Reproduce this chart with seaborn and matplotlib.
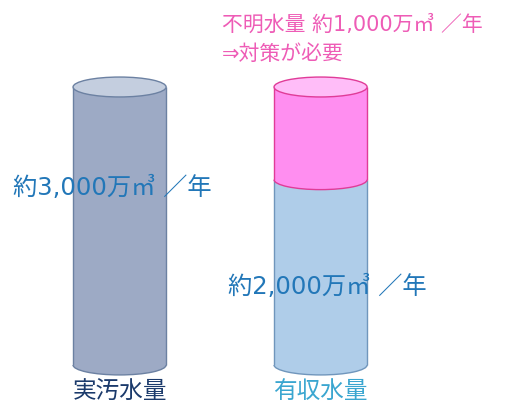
import matplotlib
matplotlib.use("Agg")
import matplotlib.pyplot as plt
import seaborn as sns
from matplotlib.patches import Ellipse, Arc

# 年間水量（万㎥／年）
categories = ["実汚水量", "有収水量"]
measured = [3000, 2000]   # 実汚水量, 有収水量
unknown = 1000            # 不明水量

label_color = "#2277B8"
cat_colors = ["#1B3A6B", "#3AA6D0"]
pink_text = "#EE5CB6"

body = {"gray": "#9DAAC5", "blue": "#AFCDE9", "pink": "#FF8EF0"}
cap = {"gray": "#C4CEDF", "pink": "#FFBDF8"}
edge = {"gray": "#6C81A2", "blue": "#7096BC", "pink": "#E03C98"}

sns.set_theme(style="white")
plt.rcParams["font.family"] = ["Noto Sans CJK JP", "DejaVu Sans"]
label_family = ["DejaVu Sans", "Noto Sans CJK JP"]

fig = plt.figure(figsize=(5.32, 4.05), dpi=100)
ax = fig.add_axes([0, 0, 1, 1])

bar_w = 0.463
cap_h = 215  # ellipse height in data units

# 合計の高さ（左: 実汚水量, 右: 有収水量 + 不明水量）
totals = [measured[0], measured[1] + unknown]
sns.barplot(x=categories, y=totals, hue=categories,
            palette=[body["gray"], body["pink"]], legend=False,
            width=bar_w, saturation=1, linewidth=0, ax=ax, zorder=2)
# 有収水量の部分
sns.barplot(x=[categories[1]], y=[measured[1]], order=categories,
            color=body["blue"], width=bar_w, saturation=1, linewidth=0,
            ax=ax, zorder=3)

left_bar, right_bar, blue_bar = ax.patches[:3]


def bottom_cap(p, y, fill, ec, z):
    cx = p.get_x() + p.get_width() / 2
    w = p.get_width()
    ax.add_patch(Ellipse((cx, y), w, cap_h, facecolor=fill, edgecolor="none", zorder=z))
    ax.add_patch(Arc((cx, y), w, cap_h, theta1=180, theta2=360, color=ec, lw=1.0, zorder=z + 0.1))


def top_cap(p, y, fill, ec, z):
    cx = p.get_x() + p.get_width() / 2
    ax.add_patch(Ellipse((cx, y), p.get_width(), cap_h, facecolor=fill,
                         edgecolor=ec, lw=1.0, zorder=z))


def sides(p, y0, y1, ec, z):
    x0 = p.get_x()
    ax.vlines([x0, x0 + p.get_width()], y0, y1, colors=ec, lw=1.0, zorder=z)


# 実汚水量の円柱
bottom_cap(left_bar, 0, body["gray"], edge["gray"], 1)
sides(left_bar, 0, left_bar.get_height(), edge["gray"], 2.5)
top_cap(left_bar, left_bar.get_height(), cap["gray"], edge["gray"], 4)

# 有収水量 + 不明水量の円柱
bottom_cap(blue_bar, 0, body["blue"], edge["blue"], 1)
sides(blue_bar, 0, blue_bar.get_height(), edge["blue"], 3.5)
bottom_cap(right_bar, blue_bar.get_height(), body["pink"], edge["pink"], 4)
sides(right_bar, blue_bar.get_height(), right_bar.get_height(), edge["pink"], 4.5)
top_cap(right_bar, right_bar.get_height(), cap["pink"], edge["pink"], 5)

# 数値ラベル
ax.text(-0.53, 1910, f"約{measured[0]:,}万㎥ ／年", color=label_color,
        fontsize=17.5, family=label_family, ha="left", va="center", zorder=10)
ax.text(0.54, 842, f"約{measured[1]:,}万㎥ ／年", color=label_color,
        fontsize=17.5, family=label_family, ha="left", va="center", zorder=10)
ax.text(0.51, 3669, f"不明水量 約{unknown:,}万㎥ ／年", color=pink_text,
        fontsize=15, family=label_family, ha="left", va="center", zorder=10)
ax.text(0.51, 3356, "⇒対策が必要", color=pink_text,
        fontsize=15, family=label_family, ha="left", va="center", zorder=10)

# 区分ラベル
for i, (name, c) in enumerate(zip(categories, cat_colors)):
    ax.text(i, -281, name, color=c, fontsize=17, ha="center", va="center")

ax.set_xlim(-0.595, 2.052)
ax.set_ylim(-432, 3939)
ax.axis("off")

fig.savefig("out.png", dpi=100)
